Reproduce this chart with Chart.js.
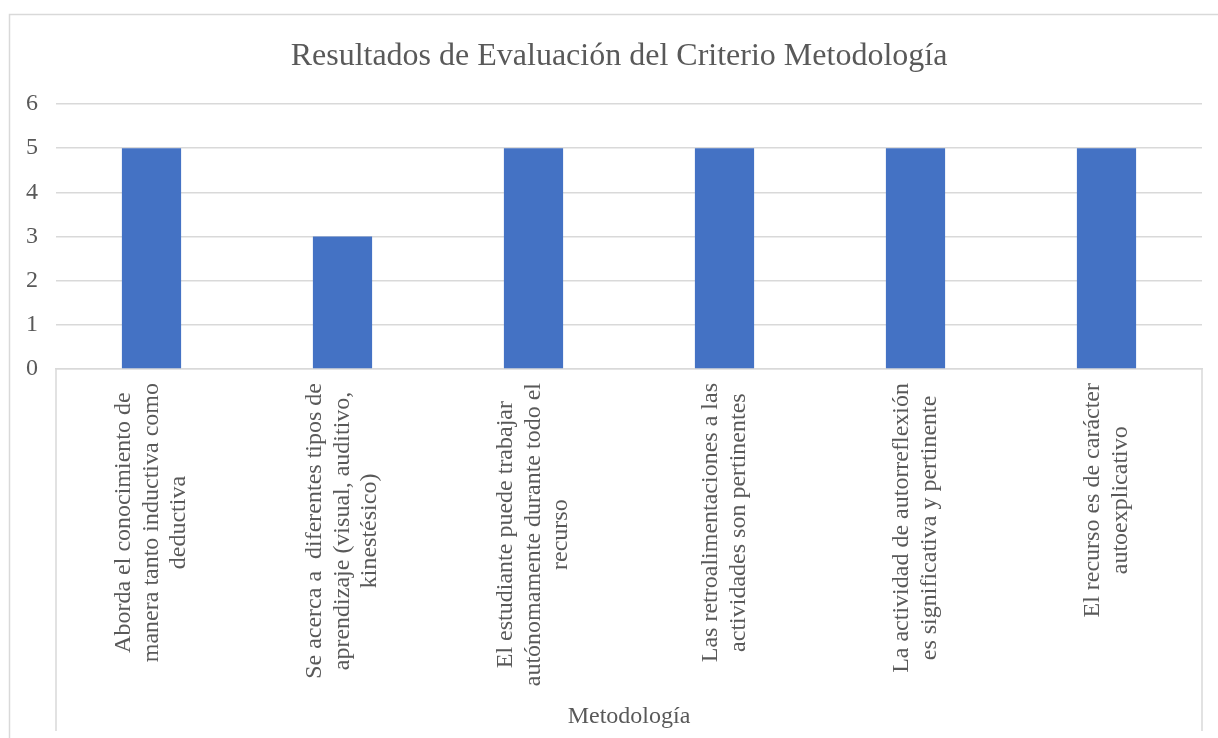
<!DOCTYPE html>
<html>
<head>
<meta charset="utf-8">
<script src="https://cdn.jsdelivr.net/npm/chart.js@4.4.1/dist/chart.umd.min.js"></script>
<style>
  html, body { margin: 0; padding: 0; background: #ffffff; }
  #wrap { width: 1218px; height: 738px; }
</style>
</head>
<body>
<div id="wrap"><canvas id="c" width="1218" height="738"></canvas></div>
<script>
// ---- data ----
const chartTitle = "Resultados de Evaluación del Criterio Metodología";
const groupLabel = "Metodología";
const categories = [
  ["Aborda el conocimiento de", "manera tanto inductiva como", "deductiva"],
  ["Se acerca a  diferentes tipos de", "aprendizaje (visual, auditivo,", "kinestésico)"],
  ["El estudiante puede trabajar", "autónomamente durante todo el", "recurso"],
  ["Las retroalimentaciones a las", "actividades son pertinentes"],
  ["La actividad de autorreflexión", "es significativa y pertinente"],
  ["El recurso es de carácter", "autoexplicativo"]
];
const values = [5, 3, 5, 5, 5, 5];
const yTicks = [0, 1, 2, 3, 4, 5, 6];

// ---- styles ----
const FONT = "'Liberation Serif', 'Times New Roman', serif";
const TEXT = '#595959';
const GRID = '#d9d9d9';

const framePlugin = {
  id: 'frame',
  afterLayout(chart) {
    // centre the title over the same span as the reference
    if (chart.titleBlock) { chart.titleBlock.left = 36; }
  },
  beforeDraw(chart) {
    const ctx = chart.ctx;
    ctx.save();
    ctx.fillStyle = '#ffffff';
    ctx.fillRect(0, 0, chart.width, chart.height);
    ctx.strokeStyle = GRID;
    ctx.lineWidth = 1.5;
    ctx.strokeRect(9.5, 14.5, chart.width + 20, chart.height + 20);
    ctx.restore();
  },
  afterDraw(chart) {
    const ctx = chart.ctx;
    const xs = chart.scales.x;
    const area = chart.chartArea;
    ctx.save();
    ctx.strokeStyle = GRID;
    ctx.lineWidth = 1.5;
    ctx.beginPath();
    ctx.moveTo(xs.left, area.bottom);
    ctx.lineTo(xs.left, 731);
    ctx.moveTo(xs.right, area.bottom);
    ctx.lineTo(xs.right, 731);
    ctx.stroke();
    ctx.font = '24px ' + FONT;
    ctx.fillStyle = TEXT;
    ctx.textAlign = 'center';
    ctx.textBaseline = 'middle';
    const lineH = 27.6;
    categories.forEach((lines, i) => {
      const x = xs.getPixelForTick(i);
      const maxW = Math.max(...lines.map(l => ctx.measureText(l).width));
      const top = area.bottom + 14;
      ctx.save();
      ctx.translate(x, top + maxW / 2);
      ctx.rotate(-Math.PI / 2);
      lines.forEach((l, j) => {
        ctx.fillText(l, 0, (j - (lines.length - 1) / 2) * lineH);
      });
      ctx.restore();
    });
    ctx.restore();
  }
};

new Chart(document.getElementById('c'), {
  type: 'bar',
  data: {
    labels: categories,
    datasets: [{
      label: groupLabel,
      data: values,
      backgroundColor: '#4472C4',
      borderWidth: 0,
      barPercentage: 0.31,
      categoryPercentage: 1.0
    }]
  },
  options: {
    responsive: false,
    animation: false,
    layout: { padding: { left: 12, right: 16, top: 0, bottom: 0 } },
    plugins: {
      legend: { display: false },
      tooltip: { enabled: false },
      title: {
        display: true,
        text: chartTitle,
        color: TEXT,
        font: { family: FONT, size: 32, weight: 'normal', lineHeight: 1.2 },
        padding: { top: 37.8, bottom: 27.8 }
      }
    },
    scales: {
      x: {
        offset: true,
        grid: { display: false, drawTicks: false },
        border: { display: true, color: GRID, width: 1.5 },
        ticks: { display: false },
        title: {
          display: true,
          text: groupLabel,
          color: TEXT,
          font: { family: FONT, size: 24, lineHeight: 1.2 },
          padding: { top: 0, bottom: 7 }
        },
        afterFit(scale) { scale.height = 369; }
      },
      y: {
        min: 0,
        max: 6,
        afterBuildTicks(scale) { scale.ticks = yTicks.map(v => ({ value: v })); },
        grid: { color: GRID, lineWidth: 1.5, drawTicks: false },
        border: { display: false },
        ticks: {
          color: TEXT,
          padding: 18,
          font: { family: FONT, size: 24 }
        },
        afterFit(scale) { scale.width = 44; }
      }
    }
  },
  plugins: [framePlugin]
});
</script>
</body>
</html>
